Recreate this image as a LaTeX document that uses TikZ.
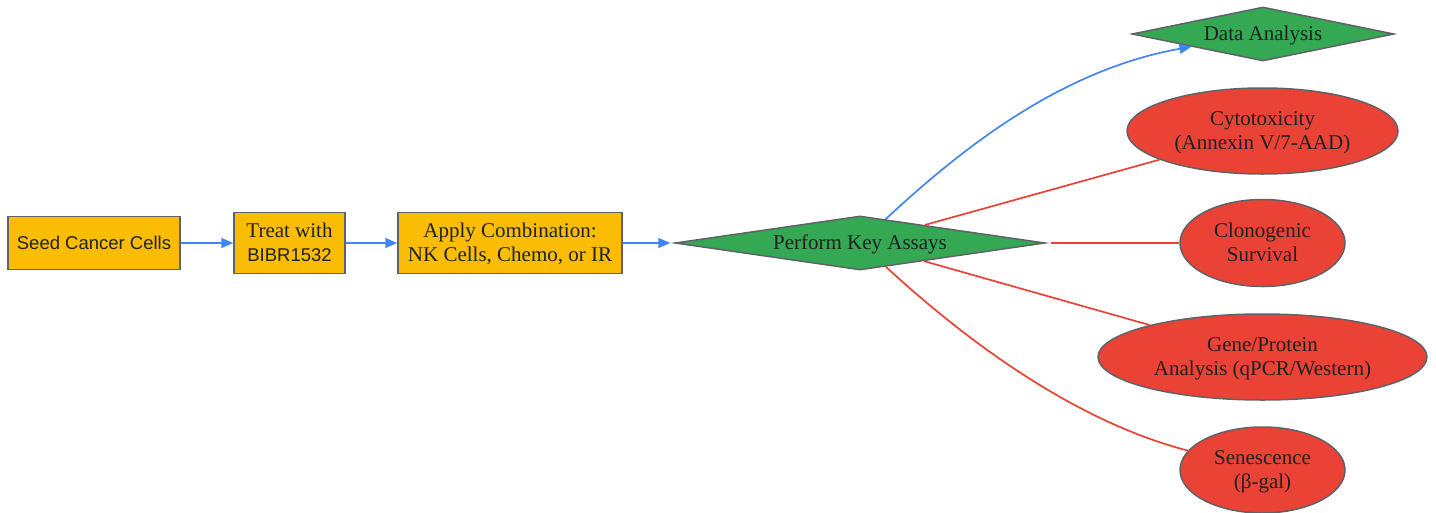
\documentclass[tikz,border=0pt]{standalone}
\usepackage{fontspec}
\setmainfont{Liberation Serif}
\newfontfamily\sansfont{Liberation Sans}
\usepackage{tikz}
\usetikzlibrary{arrows.meta,shapes.geometric,positioning}
\usepackage{xcolor}
\definecolor{gyellow}{RGB}{251,188,4}
\definecolor{ggreen}{RGB}{52,168,83}
\definecolor{gred}{RGB}{234,67,53}
\definecolor{gblue}{RGB}{66,133,244}
\definecolor{gborder}{RGB}{95,99,104}
\definecolor{gtext}{RGB}{32,33,36}
\tikzstyle{arrow} = [line width=1.7pt,-{Triangle[length=12pt,width=10pt]},color=gblue]
\tikzstyle{link} = [line width=1.7pt,color=gred]
\tikzstyle{stepbox} = [rectangle, inner sep=0pt, align=center, draw=gborder, fill=gyellow, line width=1.5pt, text=gtext, text depth=1pt, font=\fontsize{21}{24}\selectfont]
\tikzstyle{decision} = [diamond, inner sep=0pt, align=center, draw=gborder, fill=ggreen, line width=1.5pt, text=gtext, text depth=1pt, font=\fontsize{21}{24}\selectfont]
\tikzstyle{assay} = [ellipse, inner sep=0pt, align=center, draw=gborder, fill=gred, line width=1.5pt, text=gtext, text depth=1pt, font=\fontsize{21}{24}\selectfont]

\begin{document}
\begin{tikzpicture}[x=1pt, y=-1pt]
\useasboundingbox (0,0) rectangle (1436,512);
% Treatment chain
\node (seed) [stepbox, minimum width=172pt, minimum height=53pt, font=\sansfont\fontsize{18.5}{24}\selectfont] at (94,243) {Seed Cancer Cells};
\node (treat) [stepbox, minimum width=111pt, minimum height=61pt] at (289.5,243) {Treat with\\{\sansfont\fontsize{18.5}{24}\selectfont BIBR1532}};
\node (apply) [stepbox, minimum width=224pt, minimum height=61pt] at (510,243) {Apply Combination:\\NK Cells, Chemo, or IR};
\node (assays) [decision, minimum width=370pt, minimum height=54pt, aspect=6.85] at (860,243) {Perform Key Assays};

% Read-outs
\node (analysis) [decision, minimum width=262pt, minimum height=54pt, aspect=4.85] at (1263,34) {Data Analysis};
\node (cyto) [assay, minimum width=271pt, minimum height=86pt] at (1262.5,131) {Cytotoxicity\\(Annexin V/7-AAD)};
\node (clono) [assay, minimum width=165pt, minimum height=87pt] at (1262.5,243) {Clonogenic\\Survival};
\node (gene) [assay, minimum width=329pt, minimum height=86pt] at (1262.5,357) {Gene/Protein\\Analysis (qPCR/Western)};
\node (senes) [assay, minimum width=165pt, minimum height=86pt] at (1262.5,470) {Senescence\\(β-gal)};

\draw[arrow] (seed) -- (treat);
\draw[arrow] (treat) -- (apply);
\draw[arrow, shorten >=4pt] (apply) -- (assays);
\draw[arrow] (assays) .. controls (960,150) and (1060,70) .. (analysis);
\draw[link] (assays) -- (cyto);
\draw[link, shorten <=5pt] (assays) -- (clono);
\draw[link] (assays) -- (gene);
\draw[link] (assays) .. controls (960,335) and (1070,420) .. (senes);
\end{tikzpicture}
\end{document}
